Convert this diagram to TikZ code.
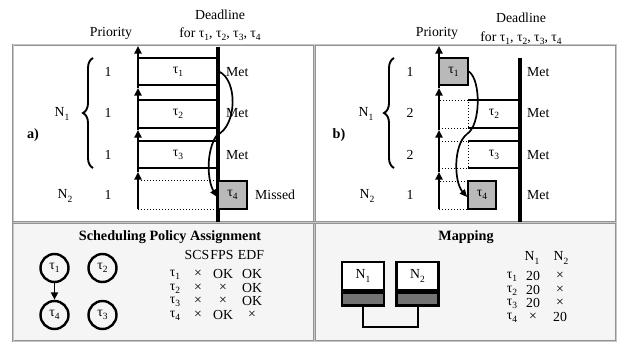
\documentclass[tikz,border=0pt]{standalone}
\usepackage{fontspec}
\setmainfont{Liberation Serif}
\usetikzlibrary{arrows.meta,decorations.pathreplacing}
\newcommand{\tsk}[1]{τ\raisebox{-3.2pt}{\fontsize{9.5}{10}\selectfont #1}}
\newcommand{\nd}[1]{N\raisebox{-3.2pt}{\fontsize{9.5}{10}\selectfont #1}}
\tikzset{
  lbl/.style={font=\fontsize{13.8}{16}\selectfont, inner sep=0pt},
  bold/.style={lbl, font=\fontsize{14.2}{16}\selectfont\bfseries},
  panelline/.style={draw=gray!85, double=gray!45, double distance=1pt, line width=0.8pt},
  axarrow/.style={line width=1.8pt, -{Triangle[width=7pt,length=7.5pt]}},
  ddl/.style={line width=3.4pt},
  tbox/.style={lbl, draw, line width=1.8pt},
  gbox/.style={tbox, fill=gray!55},
  dots/.style={dotted, line width=1pt},
  curve/.style={line width=1.7pt},
  curvearrow/.style={line width=1.7pt, -{Triangle[width=6.5pt,length=7.5pt]}},
  bracestyle/.style={line width=1.9pt, decorate, decoration={brace, amplitude=10pt}},
  circ/.style={lbl, circle, draw, line width=2.4pt, minimum size=28pt},
  mtop/.style={lbl, draw, line width=2.4pt, fill=white, minimum width=42pt, minimum height=28pt},
  mbot/.style={draw, line width=2.4pt, fill=black!55, minimum width=42pt, minimum height=13pt, inner sep=0pt},
  conn/.style={line width=2pt}
}
\begin{document}
\begin{tikzpicture}[x=1pt,y=-1pt]
\useasboundingbox (0,0) rectangle (628,345);
\fill[white] (0,0) rectangle (628,345);
% panels
\fill[gray!8] (13,222.5) rectangle (616,341);
\draw[panelline] (13,45) rectangle (616,341);
\draw[panelline] (314.5,45) -- (314.5,341);
\draw[panelline] (13,222.5) -- (616,222.5);

% ===== panel a =====
\node[lbl] (apri) at (111,33) {Priority};
\node[lbl] (adl) at (220,15) {Deadline};
\node[lbl] (afor) at (220,34) {for \tsk1, \tsk2, \tsk3, \tsk4};
\node[bold] (alab) at (33,135) {a)};
\coordinate (ax0) at (138,209);
\coordinate (ax1) at (138,172);
\coordinate (ax2) at (138,130);
\coordinate (ax3) at (138,88);
\coordinate (ax4) at (138,46);
\draw[axarrow] (ax0) -- (ax1);
\draw[axarrow] (ax1) -- (ax2);
\draw[axarrow] (ax2) -- (ax3);
\draw[axarrow] (ax3) -- (ax4);
\coordinate (ad0) at (218,47);
\coordinate (ad1) at (218,222);
\draw[ddl] (ad0) -- (ad1);
\node[tbox, minimum width=80pt, minimum height=27pt] (at1) at (178,71.5) {\tsk1};
\node[tbox, minimum width=80pt, minimum height=28pt] (at2) at (178,114) {\tsk2};
\node[tbox, minimum width=80pt, minimum height=27pt] (at3) at (178,154.5) {\tsk3};
\node[inner sep=0pt, minimum width=80pt, minimum height=28pt] (at4d) at (178,195) {};
\draw[dots] (at4d.north west) -- (at4d.north east);
\draw[dots] (at4d.south west) -- (at4d.south east);
\node[gbox, minimum width=29pt, minimum height=28pt] (at4) at (232.5,195) {\tsk4};
\foreach \y/\n in {72/1,113/2,155/3}
  \node[lbl, anchor=west] (amet\n) at (226,\y) {Met};
\node[lbl, anchor=west] (amiss) at (255,195) {Missed};
\foreach \y/\n in {72/1,113/2,155/3,195/4}
  \node[lbl] (apr\n) at (108,\y) {1};
\coordinate (abr0) at (93,168);
\coordinate (abr1) at (93,58);
\draw[bracestyle] (abr0) -- (abr1);
\node[lbl] (aN1) at (62,114) {\nd1};
\node[lbl] (aN2) at (65,196) {\nd2};
\coordinate (amid) at (217,135);
\draw[curve] (at1.east) .. controls (238,80) and (237,126) .. (amid);
\draw[curvearrow] (amid) .. controls (206,150) and (207,180) .. ([yshift=-2pt]at4.west);

% ===== panel b =====
\node[lbl] (bpri) at (437,33) {Priority};
\node[lbl] (bdl) at (521,18) {Deadline};
\node[lbl] (bfor) at (521,38) {for \tsk1, \tsk2, \tsk3, \tsk4};
\node[bold] (blab) at (339,135) {b)};
\coordinate (bx0) at (439,209);
\coordinate (bx1) at (439,172);
\coordinate (bx2) at (439,130);
\coordinate (bx3) at (439,88);
\coordinate (bx4) at (439,46);
\draw[axarrow] (bx0) -- (bx1);
\draw[axarrow] (bx1) -- (bx2);
\draw[axarrow] (bx2) -- (bx3);
\draw[axarrow] (bx3) -- (bx4);
\coordinate (bd0) at (520,58);
\coordinate (bd1) at (520,222);
\draw[ddl] (bd0) -- (bd1);
\node[gbox, minimum width=29pt, minimum height=27pt] (bt1) at (453.5,71.5) {\tsk1};
% tau2
\node[draw, dots, inner sep=0pt, minimum width=29pt, minimum height=28pt] (bw2) at (453.5,114) {};
\node[lbl, minimum width=52pt, minimum height=28pt] (bt2) at (494,114) {\tsk2};
\draw[line width=1.8pt] (bt2.north west) -- (bt2.north east);
\draw[line width=1.8pt] (bt2.south west) -- (bt2.south east);
% tau3
\node[draw, dots, inner sep=0pt, minimum width=29pt, minimum height=27pt] (bw3) at (453.5,154.5) {};
\node[lbl, minimum width=52pt, minimum height=27pt] (bt3) at (494,154.5) {\tsk3};
\draw[line width=1.8pt] (bt3.north west) -- (bt3.north east);
\draw[line width=1.8pt] (bt3.south west) -- (bt3.south east);
% tau4
\node[draw, dots, inner sep=0pt, minimum width=29pt, minimum height=28pt] (bw4) at (453.5,195) {};
\node[gbox, minimum width=28pt, minimum height=28pt] (bt4) at (482,195) {\tsk4};
\foreach \y/\n in {72/1,113/2,155/3,195/4}
  \node[lbl, anchor=west] (bmet\n) at (527,\y) {Met};
\foreach \y/\n/\p in {72/1/1,113/2/2,155/3/2,195/4/1}
  \node[lbl] (bpr\n) at (410,\y) {\p};
\coordinate (bbr0) at (394,168);
\coordinate (bbr1) at (394,58);
\draw[bracestyle] (bbr0) -- (bbr1);
\node[lbl] (bN1) at (366,114) {\nd1};
\node[lbl] (bN2) at (367,196) {\nd2};
\coordinate (bmid) at (467,134);
\draw[curve] (bt1.east) .. controls (481,80) and (481,125) .. (bmid);
\draw[curvearrow] (bmid) .. controls (453,145) and (454,182) .. ([yshift=-2pt]bt4.west);

% ===== scheduling policy =====
\node[bold] (stitle) at (170,237) {Scheduling Policy Assignment};
\node[circ] (c1) at (54.5,268) {\tsk1};
\node[circ] (c2) at (102.5,268) {\tsk2};
\node[circ] (c4) at (54.5,315) {\tsk4};
\node[circ] (c3) at (102.5,315) {\tsk3};
\draw[line width=1.9pt, -{Triangle[width=7pt,length=7.5pt]}] (c1) -- (c4);
\node[lbl] (hscs) at (197,255) {SCS};
\node[lbl] (hfps) at (222,255) {FPS};
\node[lbl] (hedf) at (251,255) {EDF};
\foreach \r/\y/\a/\b/\c in {1/275/×/OK/OK, 2/288.5/×/×/OK, 3/302/×/×/OK, 4/315.5/×/OK/×}{
  \node[lbl] (st\r) at (175,\y) {\tsk\r};
  \node[lbl] (sa\r) at (198,\y-1) {\a};
  \node[lbl] (sb\r) at (223,\y-1) {\b};
  \node[lbl] (sc\r) at (252,\y-1) {\c};
}

% ===== mapping =====
\node[bold] (mtitle) at (466,237) {Mapping};
\node[mtop] (m1) at (363,276) {\nd1};
\node[mbot, anchor=north] (m1b) at (m1.south) {};
\node[mtop] (m2) at (417.5,276) {\nd2};
\node[mbot, anchor=north] (m2b) at (m2.south) {};
\draw[conn] (m1b.south) -- ++(0,20) -| (m2b.south);
\node[lbl] (hn1) at (532,258) {\nd1};
\node[lbl] (hn2) at (561,258) {\nd2};
\foreach \r/\y/\a/\b in {1/277/20/×, 2/290.5/20/×, 3/304/20/×, 4/317.5/×/20}{
  \node[lbl] (mt\r) at (512,\y) {\tsk\r};
  \node[lbl] (ma\r) at (533,\y-1) {\a};
  \node[lbl] (mb\r) at (560,\y-1) {\b};
}
\end{tikzpicture}
\end{document}
